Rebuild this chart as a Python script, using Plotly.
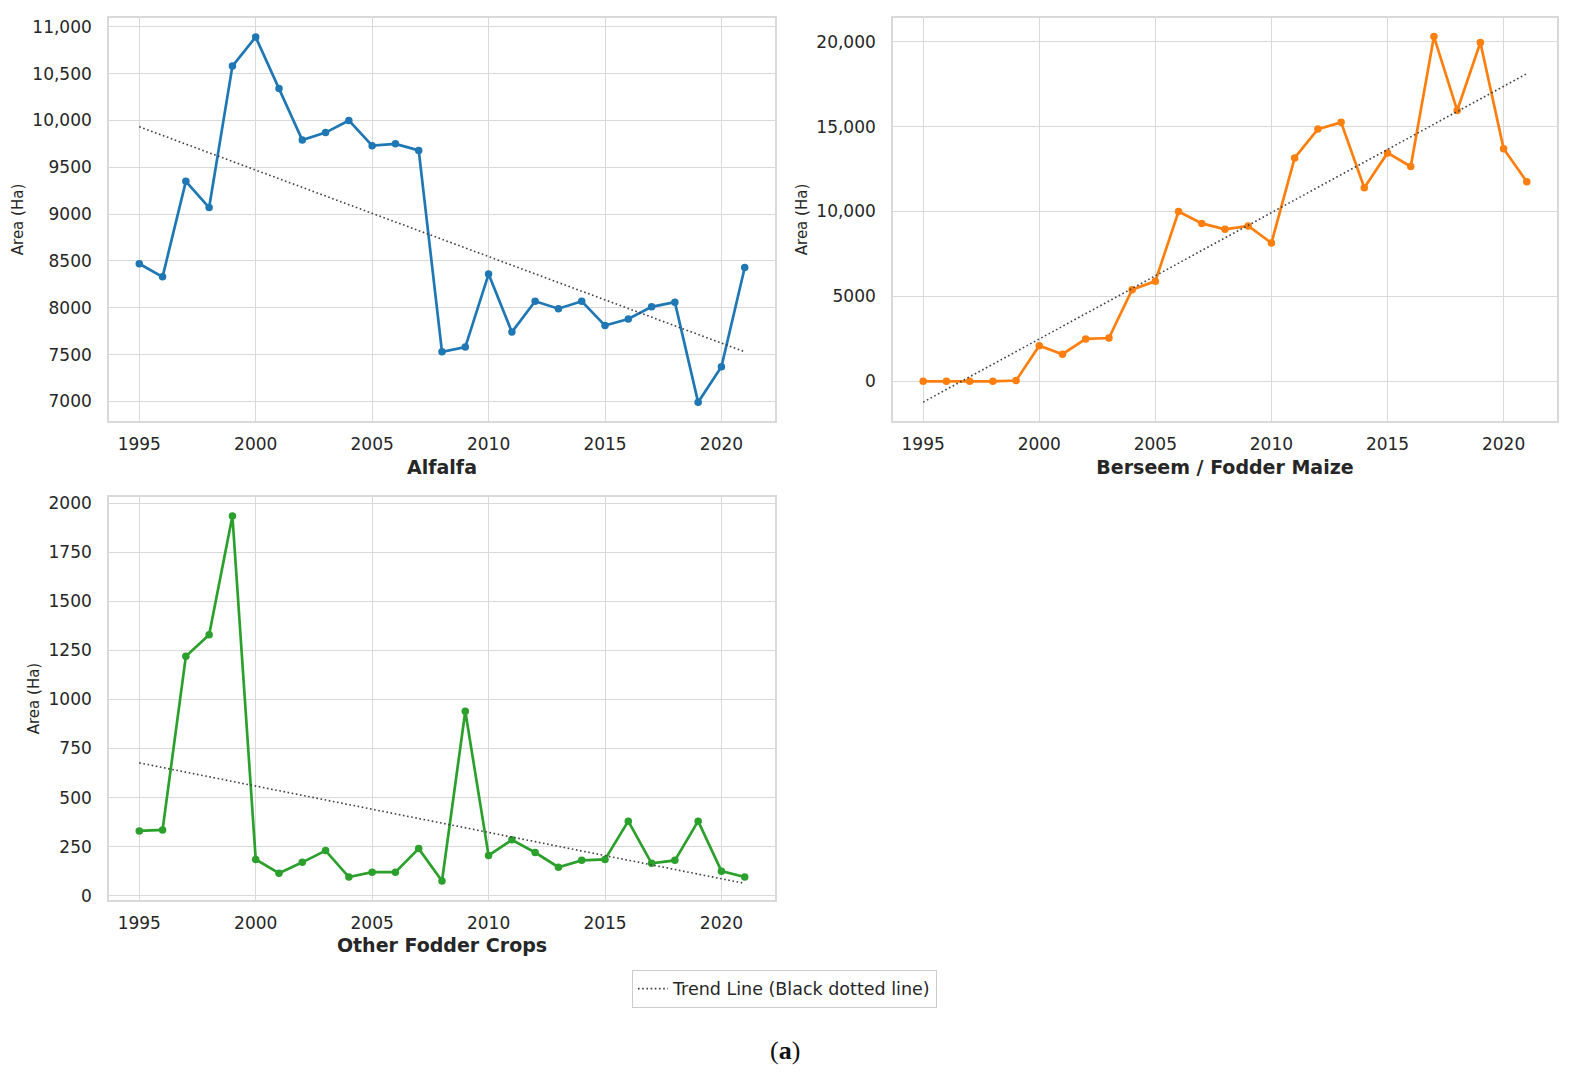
import numpy as np
import plotly.graph_objects as go

years = list(range(1995, 2022))

alfalfa = [8470, 8330, 9350, 9070, 10580, 10890, 10340, 9790, 9870, 10000,
           9730, 9750, 9680, 7530, 7580, 8360, 7740, 8070, 7990, 8070,
           7810, 7880, 8010, 8060, 6990, 7370, 8430]
berseem = [0, 0, 0, 0, 50, 2100, 1600, 2500, 2550, 5400,
           5900, 10000, 9300, 8950, 9150, 8150, 13150, 14850, 15250, 11400,
           13450, 12650, 20300, 15950, 19950, 13700, 11750]
other = [330, 335, 1220, 1330, 1935, 185, 115, 170, 230, 95,
         120, 120, 240, 75, 940, 205, 285, 220, 145, 180,
         185, 380, 165, 180, 380, 125, 95]

x_ticks = [1995, 2000, 2005, 2010, 2015, 2020]
alf_ticks = [7000, 7500, 8000, 8500, 9000, 9500, 10000, 10500, 11000]
alf_labels = ["7000", "7500", "8000", "8500", "9000", "9500", "10,000", "10,500", "11,000"]
ber_ticks = [0, 5000, 10000, 15000, 20000]
ber_labels = ["0", "5000", "10,000", "15,000", "20,000"]
oth_ticks = [0, 250, 500, 750, 1000, 1250, 1500, 1750, 2000]
oth_labels = ["0", "250", "500", "750", "1000", "1250", "1500", "1750", "2000"]

titles = ["Alfalfa", "Berseem / Fodder Maize", "Other Fodder Crops"]
colors = ["#1f77b4", "#ff7f0e", "#2ca02c"]
series = [alfalfa, berseem, other]
yranges = [[6790, 11095], [-2340, 21400], [-20, 2030]]
yticks = [(alf_ticks, alf_labels), (ber_ticks, ber_labels), (oth_ticks, oth_labels)]

W, H = 1569, 1079
boxes = [(109, 775, 14, 421), (893, 1557, 14, 421), (109, 775, 498, 904)]

fig = go.Figure()
grid = "#d9d9d9"
tickfont = dict(family="DejaVu Sans", size=17, color="#262626")

for i, (vals, col, title, yr, (tv, tt), box) in enumerate(zip(series, colors, titles, yranges, yticks, boxes)):
    n = i + 1
    xa = "x" if n == 1 else f"x{n}"
    ya = "y" if n == 1 else f"y{n}"
    fig.add_trace(go.Scatter(x=years, y=vals, mode="lines+markers",
                             line=dict(color=col, width=2.7),
                             marker=dict(color=col, size=7.5),
                             showlegend=False, xaxis=xa, yaxis=ya))
    coef = np.polyfit(years, vals, 1)
    trend = np.polyval(coef, years)
    fig.add_trace(go.Scatter(x=years, y=trend, mode="lines",
                             line=dict(color="#404040", width=1.6, dash="1.6px,2.6px"),
                             name="Trend Line (Black dotted line)",
                             showlegend=(i == 0), xaxis=xa, yaxis=ya))
    x0, x1, y0, y1 = box
    fig.layout[f"xaxis{'' if n == 1 else n}"] = dict(
        domain=[x0 / W, x1 / W], anchor=ya, range=[1993.7, 2022.3],
        tickvals=x_ticks, tickfont=tickfont, showgrid=True, gridcolor=grid, gridwidth=1.3,
        zeroline=False, showline=True, linecolor=grid, linewidth=1.6, mirror=True,
        ticks="", ticklabelstandoff=7,
        title=dict(text=f"<b>{title}</b>", font=dict(family="DejaVu Sans", size=19, color="#262626"), standoff=7))
    fig.layout[f"yaxis{'' if n == 1 else n}"] = dict(
        domain=[1 - y1 / H, 1 - y0 / H], anchor=xa, range=yr,
        tickvals=tv, ticktext=tt, tickfont=tickfont, showgrid=True, gridcolor=grid, gridwidth=1.3,
        zeroline=False, showline=True, linecolor=grid, linewidth=1.6, mirror=True,
        ticks="", ticklabelstandoff=12,
        title=dict(text="Area (Ha)", font=dict(family="DejaVu Sans", size=15, color="#262626"), standoff=5))

fig.add_annotation(text="(<b>a</b>)", x=0.5, y=1 - 1056 / H, xref="paper", yref="paper",
                   xanchor="center", yanchor="middle",
                   showarrow=False, font=dict(family="Liberation Serif", size=26, color="#111111"))

fig.update_layout(
    width=W, height=H, margin=dict(l=0, r=0, t=0, b=0),
    paper_bgcolor="white", plot_bgcolor="white",
    legend=dict(x=0.5, y=1 - 994 / H, xanchor="center", yanchor="middle",
                bordercolor="#cccccc", borderwidth=1, bgcolor="white",
                font=dict(family="DejaVu Sans", size=17.5, color="#262626")),
)

fig.write_html("out.html", config={"displayModeBar": False},
               post_script=("document.documentElement.style.overflow='hidden';"
                            "document.documentElement.style.height='1079px';"
                            "document.body.style.margin='0px';"
                            "document.body.style.overflow='hidden';"
                            "document.body.style.height='1079px';"))
